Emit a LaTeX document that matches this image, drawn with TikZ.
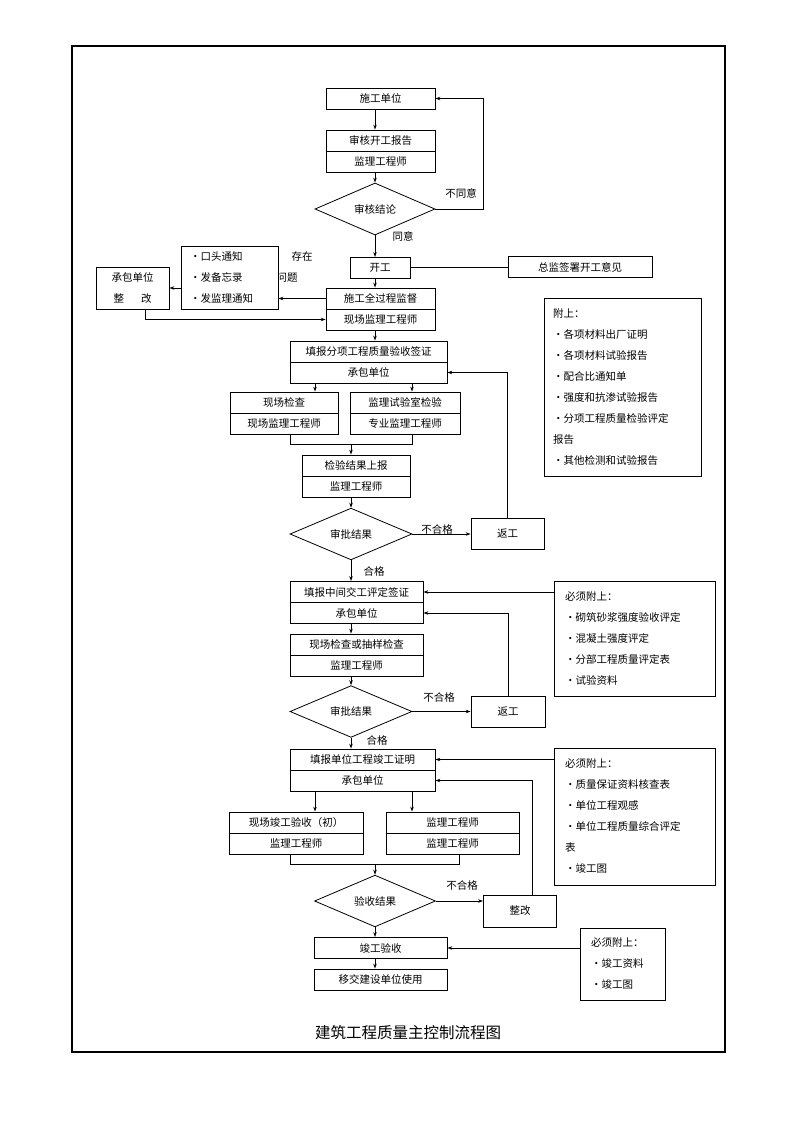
\documentclass[tikz,border=0pt]{standalone}
\usepackage{fontspec}
\setmainfont{Noto Sans CJK SC}
\usetikzlibrary{shapes.geometric,arrows.meta}

\begin{document}
\begin{tikzpicture}[x=1pt,y=-1pt,line width=0.8pt,
  >={Stealth[length=5pt,width=3.5pt]},
  every node/.style={font=\fontsize{10.5pt}{21pt}\selectfont},
  cell/.style={draw, minimum width=#1, minimum height=21pt, inner sep=0pt},
  cond/.style={draw, diamond, minimum width=121pt, minimum height=51pt, inner sep=0pt},
  note/.style={draw, fill=white, align=left, inner xsep=9pt, inner ysep=0pt, text width=#1}]
\useasboundingbox (0,0) rectangle (800,1132);
\draw[line width=1.2pt] (72,46) rectangle (725,1052);

% start of works
\node[cell=109pt] (sgdw) at (380.5,98.5) {施工单位};
\node[cell=109pt] (shbg) at (380.5,140.5) {审核开工报告};
\node[cell=109pt] (shgcs) at (380.5,161.5) {监理工程师};
\node[cond, minimum width=120pt, minimum height=52pt] (shjl) at (375,209) {审核结论};
\node[cell=60pt] (kg) at (380,268) {开工};
\node[cell=144pt] (zjqs) at (580,267) {总监签署开工意见};
\node (bty) at (461,193) {不同意};
\node (ty) at (403,236) {同意};

\draw[->] (sgdw.south -| shjl.north) -- (shbg.north -| shjl.north);
\draw[->] (shgcs.south -| shjl.north) -- (shjl.north);
\draw[->] (shjl.east) -- ++(48,0) |- (sgdw.east);
\draw[->] (shjl.south) -- (kg.north -| shjl.south);
\draw (kg.east |- zjqs.west) -- (zjqs.west);

% supervision during works
\node (cz) at (302,257) {存在};
\node (wt) at (287,278) {问题};
\node[note=79pt, minimum height=63pt] (tzbox) at (229.5,277.5) {•口头通知\\•发备忘录\\•发监理通知};
\node[cell=73pt, minimum height=42pt, align=center] (cbzg) at (132.5,288) {承包单位\\整\hspace{17pt}改};
\node[cell=109pt] (sgjd) at (380.5,298.5) {施工全过程监督};
\node[cell=109pt] (xcgcs) at (380.5,319.5) {现场监理工程师};

\draw[->] (kg.south -| shjl.south) -- (sgjd.north -| shjl.south);
\draw[->] (sgjd.west) -- (tzbox.east |- sgjd.west);
\draw[->] (tzbox.west |- cbzg.east) -- (cbzg.east);
\draw[->] ([xshift=12.5pt]cbzg.south) |- (xcgcs.west);

\node[note=139pt, minimum height=178pt] (fs) at (622.5,387) {附上：\\•各项材料出厂证明\\•各项材料试验报告\\•配合比通知单\\•强度和抗渗试验报告\\•分项工程质量检验评定\\报告\\•其他检测和试验报告};

% sub-item acceptance
\node[cell=157pt] (tbfx) at (368.5,351.5) {填报分项工程质量验收签证};
\node[cell=157pt] (cbdw1) at (368.5,372.5) {承包单位};
\node[cell=108pt] (xcjc) at (284,402.5) {现场检查};
\node[cell=108pt] (xcgcs2) at (284,423.5) {现场监理工程师};
\node[cell=110pt] (jlsy) at (405,402.5) {监理试验室检验};
\node[cell=110pt] (zygcs) at (405,423.5) {专业监理工程师};
\node[cell=108pt] (jyjg) at (356,465.5) {检验结果上报};
\node[cell=108pt] (jygcs) at (356,486.5) {监理工程师};
\node[cond, minimum width=122pt] (spjg1) at (351,534) {审批结果};
\node[cell=73pt, minimum height=31pt] (fg1) at (507.5,533.5) {返工};
\node (bhg1) at (437,529) {不合格};
\node (hg1) at (374,571) {合格};

\draw[->] (xcgcs.south -| shjl.south) -- (tbfx.north -| shjl.south);
\draw[->] (315,0 |- cbdw1.south) -- (315,0 |- xcjc.north);
\draw[->] (412,0 |- cbdw1.south) -- (412,0 |- jlsy.north);
\draw (290,0 |- xcgcs2.south) -- (290,444) -- (412,444) -- (412,0 |- zygcs.south);
\draw[->] (351,444) -- (351,0 |- jyjg.north);
\draw[->] (jygcs.south -| spjg1.north) -- (spjg1.north);
\draw[->] (spjg1.east) -- (fg1.west |- spjg1.east);
\draw[->] (fg1.north) |- (cbdw1.east);

% handover of intermediate works
\node[cell=133pt] (tbzj) at (356.5,592) {填报中间交工评定签证};
\node[cell=133pt] (cbdw2) at (356.5,613) {承包单位};
\node[cell=133pt] (xccy) at (356.5,644.5) {现场检查或抽样检查};
\node[cell=133pt] (ccgcs) at (356.5,665.5) {监理工程师};
\node[cond, minimum width=122pt] (spjg2) at (351,711.5) {审批结果};
\node[cell=74pt, minimum height=31pt] (fg2) at (508,712) {返工};
\node (bhg2) at (439,697) {不合格};
\node (hg2) at (377,740) {合格};
\node[note=139pt, inner xsep=11pt, minimum height=115pt] (bxfs1) at (634.5,638.5) {必须附上：\\•砌筑砂浆强度验收评定\\•混凝土强度评定\\•分部工程质量评定表\\•试验资料};

\draw[->] (spjg1.south) -- (tbzj.north -| spjg1.south);
\draw[->] (cbdw2.south -| spjg1.south) -- (xccy.north -| spjg1.south);
\draw[->] (ccgcs.south -| spjg2.north) -- (spjg2.north);
\draw[->] (spjg2.east) -- (fg2.west |- spjg2.east);
\draw[->] (fg2.north) |- (cbdw2.east);
\draw[->] (bxfs1.west |- tbzj.east) -- (tbzj.east);

% completion
\node[cell=145pt] (tbdw) at (362.5,759.5) {填报单位工程竣工证明};
\node[cell=145pt] (cbdw3) at (362.5,780.5) {承包单位};
\node[cell=134pt] (xcjg) at (296,822.5) {现场竣工验收（初）};
\node[cell=134pt] (xjgcs) at (296,843.5) {监理工程师};
\node[cell=133pt] (jlgcs3) at (452.5,822.5) {监理工程师};
\node[cell=133pt] (jlgcs4) at (452.5,843.5) {监理工程师};
\node[cond] (ysjg) at (375,901) {验收结果};
\node[cell=73pt, minimum height=32pt] (zg) at (520,911) {整改};
\node (bhg3) at (462,885) {不合格};
\node[note=139pt, inner xsep=11pt, minimum height=137pt] (bxfs2) at (634.5,816.5) {必须附上：\\•质量保证资料核查表\\•单位工程观感\\•单位工程质量综合评定\\表\\•竣工图};
\node[cell=133pt] (jgys) at (380.5,948) {竣工验收};
\node[cell=133pt] (yjsy) at (380.5,979.5) {移交建设单位使用};
\node[note=63pt, inner xsep=11pt, minimum height=72pt] (bxfs3) at (622.5,964) {必须附上：\\•竣工资料\\•竣工图};

\draw[->] (spjg2.south) -- (tbdw.north -| spjg2.south);
\draw[->] (315,0 |- cbdw3.south) -- (315,0 |- xcjg.north);
\draw[->] (412,0 |- cbdw3.south) -- (412,0 |- jlgcs3.north);
\draw (290,0 |- xjgcs.south) -- (290,864) -- (459,864) -- (459,0 |- jlgcs4.south);
\draw[->] (375,864) -- (ysjg.north);
\draw[->] (ysjg.east) -- (zg.west |- ysjg.east);
\draw[->] ([xshift=12pt]zg.north) |- (cbdw3.east);
\draw[->] (bxfs2.west |- tbdw.east) -- (tbdw.east);
\draw[->] (ysjg.south) -- (jgys.north -| ysjg.south);
\draw[->] (jgys.south -| ysjg.south) -- (yjsy.north -| ysjg.south);
\draw[->] (bxfs3.west |- jgys.east) -- (jgys.east);

\node[font=\fontsize{15.5pt}{18pt}\selectfont] (title) at (408,1033) {建筑工程质量主控制流程图};
\end{tikzpicture}
\end{document}
